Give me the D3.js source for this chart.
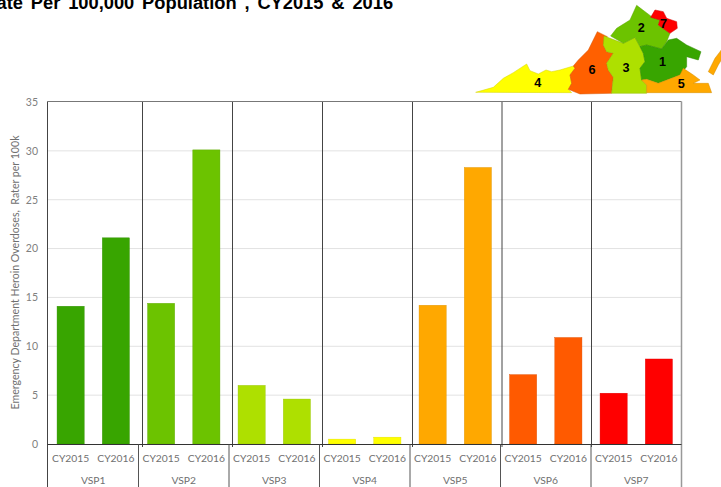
<!DOCTYPE html>
<html><head><meta charset="utf-8">
<script src="https://cdn.jsdelivr.net/npm/d3@7"></script>
<style>
html,body{margin:0;padding:0;background:#fff;overflow:hidden}
svg{display:block}
text{font-family:Lato,"Open Sans",sans-serif;fill:#707070}
</style></head><body>
<script>
const regions = ["VSP1","VSP2","VSP3","VSP4","VSP5","VSP6","VSP7"];
const years = ["CY2015","CY2016"];
const values2015 = [14.1,14.4,6.0,0.5,14.2,7.1,5.2];
const values2016 = [21.1,30.1,4.6,0.7,28.3,10.9,8.7];
const colors = ["#38a500","#6cc300","#aee000","#ffff00","#ffa800","#ff5a00","#ff0000"];
const yTicks = [0,5,10,15,20,25,30,35];
const titleText = "ate Per 100,000 Population , CY2015 & 2016";
const yTitle = "Emergency Department Heroin Overdoses,\u00a0 Rater per 100k";
const dividerStarts = [142.5,232.5,322.5,412.5,502,591.5];
const mapRegions = [
 {n:"4",c:"#ffff00",lx:233,ly:260,d:"M47,277L100,262L130,235L160,218L200,192L210,212L235,222L258,210L275,215L300,210L340,198L345,205L330,225L335,250L325,268L335,278Z"},
 {n:"6",c:"#ff6000",lx:396,ly:223,d:"M340,198L355,180L385,150L412,95L442,110L430,135L440,155L460,160L440,190L445,210L460,232L455,280L360,282L325,268L335,250L330,225L345,205Z"},
 {n:"3",c:"#aee000",lx:498,ly:217,d:"M432,108L490,130L525,112L540,140L550,160L555,185L540,205L545,240L560,255L560,280L455,280L460,232L445,210L440,190L460,160L440,155L430,135Z"},
 {n:"2",c:"#6cc300",lx:544,ly:96,d:"M452,108L470,85L510,60L530,16L575,50L600,60L595,75L630,100L620,125L605,147L560,135L540,140L525,112L490,130Z"},
 {n:"1",c:"#38a500",lx:608,ly:198,d:"M540,140L560,135L605,147L625,120L650,115L680,135L723,155L715,180L680,170L680,200L660,225L595,250L560,238L545,240L540,205L555,185L550,160Z"},
 {n:"5",c:"#ffa800",lx:664,ly:263,d:"M560,255L545,240L560,238L595,250L660,225L670,205L700,225L720,240L700,250L745,250L755,278L560,278Z"},
 {n:"7",c:"#ff0000",lx:611,ly:85,d:"M572,52L585,30L610,35L620,55L650,65L652,85L630,100L595,75L600,60Z"},
 {n:"",c:"#ffa800",lx:0,ly:0,d:"M784,150L765,175L745,215L760,225L775,195L784,180Z"}
];

const svg = d3.select("body").append("svg").attr("width",721).attr("height",487);
const L=48,R=681.5,T=102,B=444;
const x = d3.scaleBand().domain(regions).range([L,R]);
const xi = d3.scaleBand().domain(years).range([0,x.bandwidth()]).paddingInner(0.4).paddingOuter(0.2);
const y = d3.scaleLinear().domain([0,35]).range([B,T]);

svg.append("text").attr("x",-3.5).attr("y",9.3).text(titleText)
  .style("font-family","'Liberation Sans',Arial,sans-serif").style("font-weight","bold").style("font-size","18.3px").style("fill","#000").style("word-spacing","2.8px");

// gridlines
svg.append("g").selectAll("line").data(yTicks.filter(t=>t>0&&t<35)).join("line")
  .attr("x1",L).attr("x2",R).attr("y1",d=>y(d)).attr("y2",d=>y(d)).attr("stroke","#e2e2e2").attr("stroke-width",1);

// y axis
const gy = svg.append("g").attr("transform",`translate(${L-10},0)`).call(d3.axisLeft(y).tickValues(yTicks).tickSize(0).tickPadding(0));
gy.select(".domain").remove();
gy.selectAll("text").style("font-family","Lato,sans-serif").style("font-size","10.5px").style("fill","#808080");

svg.append("text").attr("transform","translate(19,272.5) rotate(-90)").attr("text-anchor","middle")
  .style("font-size","10.6px").style("fill","#707070").text(yTitle);

// bars
const rows = regions.flatMap((r,i)=>[
  {r,yr:years[0],v:values2015[i],c:colors[i]},
  {r,yr:years[1],v:values2016[i],c:colors[i]}]);
svg.append("g").selectAll("rect").data(rows).join("rect")
  .attr("x",d=>x(d.r)+xi(d.yr)).attr("width",xi.bandwidth())
  .attr("y",d=>y(d.v)).attr("height",d=>y(0)-y(d.v)).attr("fill",d=>d.c)
  .attr("stroke",d=>d3.color(d.c).darker(0.4)).attr("stroke-width",0.4);

// frame and dividers
const fr = svg.append("g");
fr.append("line").attr("x1",47.5).attr("x2",R).attr("y1",101.5).attr("y2",101.5).attr("stroke","#777");
fr.append("line").attr("x1",47.5).attr("x2",47.5).attr("y1",101.5).attr("y2",487).attr("stroke","#444");
fr.append("line").attr("x1",681.5).attr("x2",681.5).attr("y1",101.5).attr("y2",487).attr("stroke","#999").attr("stroke-width",1.5);
fr.selectAll(".d").data(dividerStarts).join("line").attr("class","d")
  .attr("x1",d=>d).attr("x2",d=>d).attr("y1",102).attr("y2",447).attr("stroke","#444");
fr.append("line").attr("x1",47.5).attr("x2",R).attr("y1",444.5).attr("y2",444.5).attr("stroke","#333");
fr.selectAll(".t").data(regions.slice(1)).join("line").attr("class","t")
  .attr("x1",d=>x(d)).attr("x2",d=>x(d)).attr("y1",444.5).attr("y2",487).attr("stroke","#555");

// x labels
svg.append("g").selectAll("text").data(rows).join("text")
  .attr("x",d=>x(d.r)+xi(d.yr)+xi.bandwidth()/2).attr("y",462).attr("text-anchor","middle")
  .style("font-size","10.3px").text(d=>d.yr);
svg.append("g").selectAll("text").data(regions).join("text")
  .attr("x",d=>x(d)+x.bandwidth()/2).attr("y",484).attr("text-anchor","middle")
  .style("font-size","10.3px").text(d=>d);

// map inset
const map = svg.append("g").attr("transform","translate(460,0) scale(0.3333)");
map.selectAll("path").data(mapRegions).join("path").attr("d",d=>d.d).attr("fill",d=>d.c)
  .attr("stroke",d=>d3.color(d.c).darker(0.5)).attr("stroke-width",1.5);
map.selectAll("text").data(mapRegions).join("text").attr("x",d=>d.lx).attr("y",d=>d.ly).attr("text-anchor","middle")
  .style("font-family","'Liberation Sans',sans-serif").style("font-weight","bold").style("font-size","38px").style("fill","#000").text(d=>d.n);
</script></body></html>
